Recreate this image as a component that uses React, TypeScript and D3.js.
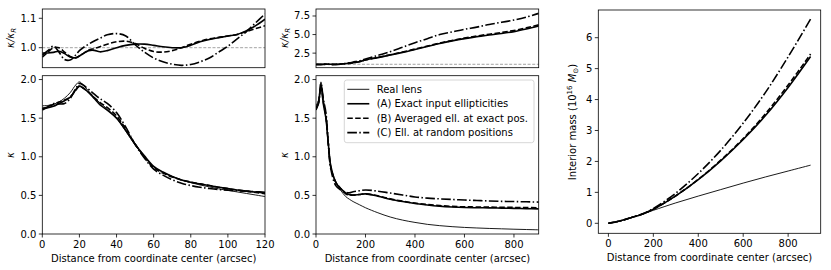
import * as d3 from 'd3';

// ---- left panel (0-120 arcsec) ----
const rLeft = [0, 3, 6, 9, 12, 15, 18, 20, 22, 25, 28, 31, 35, 40, 45, 50, 55, 60, 65, 70, 75, 80, 85, 90, 95, 100, 105, 110, 115, 120];
const realLeft = [1.66, 1.665, 1.68, 1.71, 1.76, 1.83, 1.93, 1.97, 1.93, 1.85, 1.77, 1.70, 1.62, 1.50, 1.33, 1.15, 1.0, 0.87, 0.80, 0.745, 0.70, 0.665, 0.635, 0.61, 0.585, 0.565, 0.545, 0.525, 0.505, 0.485];
const aLeft = [1.630, 1.635, 1.653, 1.689, 1.725, 1.771, 1.864, 1.915, 1.891, 1.832, 1.754, 1.676, 1.604, 1.50, 1.341, 1.164, 1.012, 0.877, 0.802, 0.745, 0.70, 0.670, 0.648, 0.627, 0.605, 0.588, 0.570, 0.555, 0.543, 0.532];
const bLeft = [1.607, 1.640, 1.680, 1.710, 1.734, 1.775, 1.862, 1.915, 1.891, 1.835, 1.765, 1.705, 1.639, 1.530, 1.359, 1.166, 0.998, 0.859, 0.788, 0.738, 0.700, 0.673, 0.649, 0.628, 0.605, 0.588, 0.570, 0.554, 0.538, 0.521];
const cLeft = [1.619, 1.648, 1.688, 1.684, 1.690, 1.753, 1.882, 1.950, 1.930, 1.872, 1.811, 1.754, 1.691, 1.572, 1.383, 1.162, 0.985, 0.840, 0.762, 0.703, 0.658, 0.627, 0.605, 0.589, 0.576, 0.568, 0.561, 0.554, 0.548, 0.541];
const ratioALeft = [0.982, 0.982, 0.984, 0.988, 0.98, 0.968, 0.966, 0.972, 0.98, 0.99, 0.991, 0.986, 0.99, 1.0, 1.008, 1.012, 1.012, 1.008, 1.003, 1.0, 1.0, 1.008, 1.02, 1.028, 1.034, 1.04, 1.045, 1.058, 1.075, 1.097];
const ratioBLeft = [0.968, 0.985, 1.0, 1.0, 0.985, 0.97, 0.965, 0.972, 0.98, 0.992, 0.997, 1.003, 1.012, 1.02, 1.022, 1.014, 0.998, 0.987, 0.985, 0.99, 1.0, 1.012, 1.022, 1.03, 1.035, 1.04, 1.045, 1.055, 1.065, 1.075];
const ratioCLeft = [0.975, 0.99, 1.005, 0.985, 0.96, 0.958, 0.975, 0.99, 1.0, 1.012, 1.023, 1.032, 1.044, 1.048, 1.04, 1.01, 0.985, 0.965, 0.952, 0.944, 0.94, 0.943, 0.952, 0.965, 0.985, 1.005, 1.03, 1.055, 1.085, 1.115];

// ---- middle panel (0-900 arcsec) ----
const rMid = [0, 10, 20, 30, 40, 50, 60, 80, 100, 120, 135, 150, 175, 200, 250, 300, 350, 400, 450, 500, 550, 600, 650, 700, 750, 800, 850, 900];
const realMid = [1.66, 1.73, 1.97, 1.73, 1.50, 1.15, 0.87, 0.665, 0.565, 0.485, 0.45, 0.42, 0.38, 0.34, 0.275, 0.22, 0.18, 0.15, 0.125, 0.108, 0.095, 0.085, 0.078, 0.072, 0.067, 0.062, 0.058, 0.054];
const aMid = [1.63, 1.70, 1.915, 1.68, 1.50, 1.164, 0.877, 0.67, 0.588, 0.532, 0.51, 0.505, 0.512, 0.52, 0.49, 0.45, 0.42, 0.395, 0.375, 0.36, 0.35, 0.343, 0.34, 0.338, 0.335, 0.332, 0.328, 0.325];
const bMid = [1.607, 1.71, 1.915, 1.70, 1.53, 1.166, 0.859, 0.673, 0.588, 0.521, 0.503, 0.503, 0.512, 0.52, 0.495, 0.455, 0.425, 0.40, 0.382, 0.368, 0.358, 0.352, 0.35, 0.348, 0.346, 0.344, 0.342, 0.34];
const cMid = [1.619, 1.685, 1.95, 1.74, 1.572, 1.162, 0.84, 0.627, 0.568, 0.541, 0.535, 0.548, 0.56, 0.57, 0.555, 0.53, 0.505, 0.48, 0.465, 0.455, 0.447, 0.44, 0.434, 0.428, 0.423, 0.42, 0.417, 0.413];
const ratioAMid = [0.98, 0.98, 0.97, 0.97, 1.0, 1.01, 1.01, 1.0, 1.04, 1.1, 1.13, 1.2, 1.35, 1.58, 1.9, 2.25, 2.6, 3.0, 3.4, 3.8, 4.15, 4.45, 4.7, 4.95, 5.15, 5.4, 5.75, 6.15];
const ratioBMid = [0.97, 0.99, 0.97, 0.98, 1.02, 1.01, 0.99, 1.01, 1.04, 1.07, 1.12, 1.2, 1.35, 1.58, 1.92, 2.28, 2.65, 3.05, 3.45, 3.85, 4.2, 4.52, 4.8, 5.05, 5.28, 5.55, 5.9, 6.3];
const ratioCMid = [0.975, 0.975, 0.99, 1.0, 1.05, 1.01, 0.965, 0.94, 1.0, 1.12, 1.19, 1.3, 1.47, 1.7, 2.2, 2.7, 3.3, 3.9, 4.45, 5.0, 5.35, 5.7, 6.0, 6.35, 6.65, 6.95, 7.35, 7.85];

// ---- right panel: interior mass ----
const rMass = [0, 50, 100, 150, 200, 300, 400, 500, 600, 700, 800, 900];
const massReal = [0, 0.073, 0.18, 0.3, 0.42, 0.66, 0.88, 1.09, 1.3, 1.5, 1.69, 1.88];
const massA = [0, 0.073, 0.18, 0.294, 0.455, 0.888, 1.41, 2.02, 2.71, 3.49, 4.39, 5.39];
const massB = [0, 0.072, 0.18, 0.293, 0.455, 0.892, 1.42, 2.04, 2.74, 3.55, 4.47, 5.47];
const massC = [0, 0.073, 0.182, 0.303, 0.477, 0.977, 1.61, 2.36, 3.24, 4.24, 5.38, 6.6];

// ---- ticks / labels ----
const xTicksLeft = [0, 20, 40, 60, 80, 100, 120];
const xTicksMid = [0, 200, 400, 600, 800];
const yTicksRatioLeft = [1.0, 1.1];
const yTicksRatioMid = [2.5, 5.0, 7.5];
const yTicksKappa = [0.0, 0.5, 1.0, 1.5, 2.0];
const yTicksMass = [0, 1, 2, 3, 4, 5, 6];
const legendLabels = ['Real lens', '(A) Exact input ellipticities', '(B) Averaged ell. at exact pos.', '(C) Ell. at random positions'];
const xLabel = 'Distance from coordinate center (arcsec)';

const FONT = 'DejaVu Sans';
const styles = [
  { width: 0.9, dash: '' },
  { width: 1.6, dash: '' },
  { width: 1.6, dash: '5.5,2.4' },
  { width: 1.6, dash: '9.6,2.4,1.5,2.4' },
];

type Scale = d3.ScaleLinear<number, number>;

function Axes(props: {
  id: string;
  x: Scale;
  y: Scale;
  xTicks?: number[];
  xTickFmt?: (v: number) => string;
  yTicks: number[];
  yTickFmt: (v: number) => string;
  series: { xs: number[]; ys: number[]; style: number }[];
  refLine?: number;
  children?: any;
}) {
  const { id, x, y } = props;
  const [x0, x1] = x.range();
  const [y0, y1] = y.range(); // y0 bottom, y1 top
  return (
    <g>
      <defs>
        <clipPath id={id}>
          <rect x={x0} y={y1} width={x1 - x0} height={y0 - y1} />
        </clipPath>
      </defs>
      {props.refLine !== undefined && (
        <line x1={x0} x2={x1} y1={y(props.refLine)} y2={y(props.refLine)}
          stroke="#999" strokeWidth={0.9} strokeDasharray="3,1.6" />
      )}
      <g clipPath={`url(#${id})`}>
        {props.series.map((s, i) => {
          const line = d3.line<number>()
            .x((_, j) => x(s.xs[j]))
            .y(d => y(d))
            .curve(d3.curveCatmullRom.alpha(0.5));
          const st = styles[s.style];
          return <path key={i} d={line(s.ys) || ''} fill="none" stroke="#000"
            strokeWidth={st.width} strokeDasharray={st.dash} />;
        })}
      </g>
      <rect x={x0} y={y1} width={x1 - x0} height={y0 - y1} fill="none" stroke="#000" strokeWidth={0.8} />
      {props.yTicks.map(t => (
        <g key={'y' + t}>
          <line x1={x0 - 3.5} x2={x0} y1={y(t)} y2={y(t)} stroke="#000" strokeWidth={0.8} />
          <text x={x0 - 6} y={y(t)} dy="0.35em" textAnchor="end" fontSize={10} fontFamily={FONT}>{props.yTickFmt(t)}</text>
        </g>
      ))}
      {props.xTicks && props.xTicks.map(t => (
        <g key={'x' + t}>
          <line x1={x(t)} x2={x(t)} y1={y0} y2={y0 + 3.5} stroke="#000" strokeWidth={0.8} />
          <text x={x(t)} y={y0 + 14} textAnchor="middle" fontSize={10} fontFamily={FONT}>{props.xTickFmt ? props.xTickFmt(t) : String(t)}</text>
        </g>
      ))}
      {props.xTicks && (
        <text x={(x0 + x1) / 2} y={y0 + 28} textAnchor="middle" fontSize={10} fontFamily={FONT}>{xLabel}</text>
      )}
      {props.children}
    </g>
  );
}

function RatioLabel({ x, y }: { x: number; y: number }) {
  return (
    <text transform={`translate(${x},${y}) rotate(-90)`} textAnchor="middle" fontSize={10} fontFamily={FONT} fontStyle="italic">
      κ/κ<tspan fontSize={7} dy={2}>R</tspan>
    </text>
  );
}

function KappaLabel({ x, y }: { x: number; y: number }) {
  return (
    <text transform={`translate(${x},${y}) rotate(-90)`} textAnchor="middle" fontSize={10} fontFamily={FONT} fontStyle="italic">κ</text>
  );
}

export default function App() {
  const f1 = d3.format('.1f');
  const xLeft = d3.scaleLinear().domain([0, 120]).range([42.3, 265]);
  const xMid = d3.scaleLinear().domain([0, 900]).range([316, 538.7]);
  const yRatioLeft = d3.scaleLinear().domain([0.932, 1.1316]).range([67.7, 9]);
  const yRatioMid = d3.scaleLinear().domain([0.54, 8.44]).range([67.7, 9]);
  const yKappa = d3.scaleLinear().domain([0, 2.05]).range([234, 75.7]);
  const xMass = d3.scaleLinear().domain([-45, 945]).range([598.3, 820.7]);
  const yMass = d3.scaleLinear().domain([-0.323, 6.895]).range([233.3, 10]);

  const legX = xMid.range()[1] - 4.7 - 189.7;
  const legY = yKappa.range()[1] + 4.3;

  return (
    <div style={{ position: 'absolute', left: 0, top: 0 }}>
      <svg width={831} height={270} style={{ display: 'block', background: '#fff' }}>
        {/* left column */}
        <Axes id="c1" x={xLeft} y={yRatioLeft} yTicks={yTicksRatioLeft} yTickFmt={f1} refLine={1}
          series={[
            { xs: rLeft, ys: ratioALeft, style: 1 },
            { xs: rLeft, ys: ratioBLeft, style: 2 },
            { xs: rLeft, ys: ratioCLeft, style: 3 },
          ]} />
        <RatioLabel x={14} y={38} />
        <Axes id="c2" x={xLeft} y={yKappa} xTicks={xTicksLeft} yTicks={yTicksKappa} yTickFmt={f1}
          series={[
            { xs: rLeft, ys: realLeft, style: 0 },
            { xs: rLeft, ys: aLeft, style: 1 },
            { xs: rLeft, ys: bLeft, style: 2 },
            { xs: rLeft, ys: cLeft, style: 3 },
          ]} />
        <KappaLabel x={14} y={155} />

        {/* middle column */}
        <Axes id="c3" x={xMid} y={yRatioMid} yTicks={yTicksRatioMid} yTickFmt={f1} refLine={1}
          series={[
            { xs: rMid, ys: ratioAMid, style: 1 },
            { xs: rMid, ys: ratioBMid, style: 2 },
            { xs: rMid, ys: ratioCMid, style: 3 },
          ]} />
        <RatioLabel x={288} y={38} />
        <Axes id="c4" x={xMid} y={yKappa} xTicks={xTicksMid} yTicks={yTicksKappa} yTickFmt={f1}
          series={[
            { xs: rMid, ys: realMid, style: 0 },
            { xs: rMid, ys: aMid, style: 1 },
            { xs: rMid, ys: bMid, style: 2 },
            { xs: rMid, ys: cMid, style: 3 },
          ]}>
          <g>
            <rect x={legX} y={legY} width={189.7} height={62.7} rx={2.5} fill="#fff" fillOpacity={0.8} stroke="#ccc" strokeWidth={0.8} />
            {legendLabels.map((lab, i) => {
              const cy = legY + 9.3 + i * 14.45;
              const st = styles[i];
              return (
                <g key={lab}>
                  <line x1={legX + 3} x2={legX + 25} y1={cy} y2={cy} stroke="#000" strokeWidth={st.width} strokeDasharray={st.dash} />
                  <text x={legX + 32.4} y={cy} dy="0.35em" fontSize={10} fontFamily={FONT}>{lab}</text>
                </g>
              );
            })}
          </g>
        </Axes>
        <KappaLabel x={288} y={155} />

        {/* right column */}
        <Axes id="c5" x={xMass} y={yMass} xTicks={xTicksMid} yTicks={yTicksMass} yTickFmt={d3.format('d')}
          series={[
            { xs: rMass, ys: massReal, style: 0 },
            { xs: rMass, ys: massA, style: 1 },
            { xs: rMass, ys: massB, style: 2 },
            { xs: rMass, ys: massC, style: 3 },
          ]} />
        <text transform={`translate(576,122) rotate(-90)`} textAnchor="middle" fontSize={10} fontFamily={FONT}>
          Interior mass (10<tspan fontSize={7} dy={-4}>16</tspan><tspan dy={4}> </tspan>
          <tspan fontStyle="italic">M</tspan><tspan fontSize={7} dy={2}>⊙</tspan><tspan dy={-2}>)</tspan>
        </text>
      </svg>
    </div>
  );
}
